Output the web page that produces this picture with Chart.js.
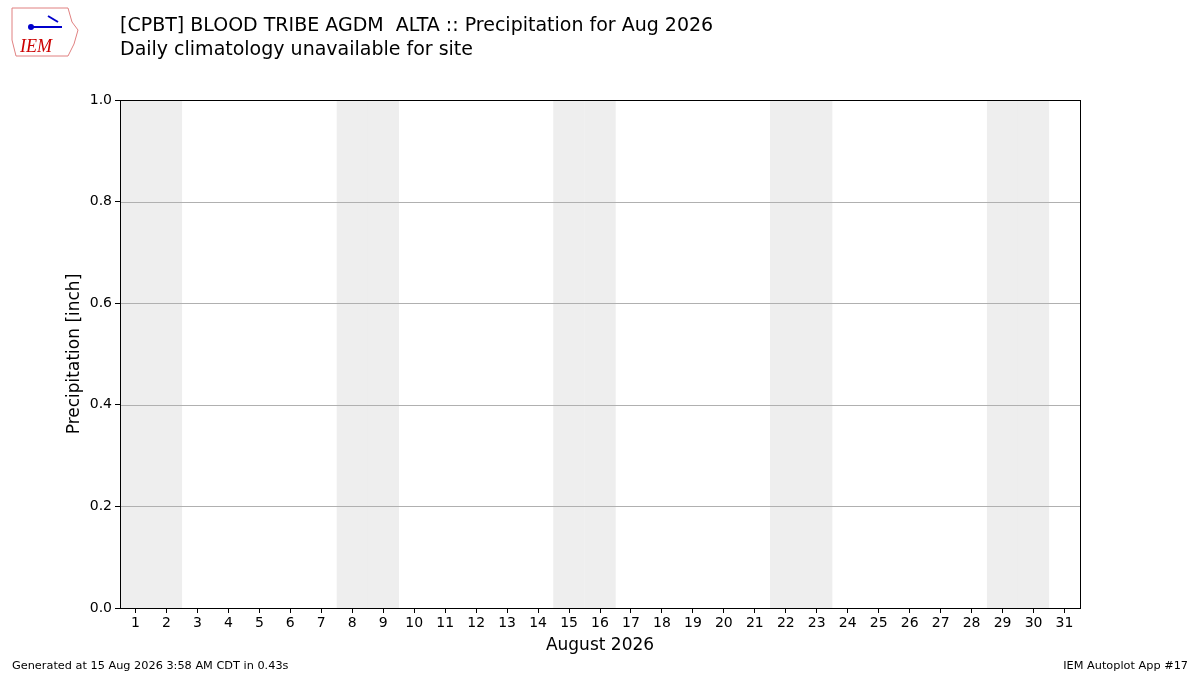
<!DOCTYPE html>
<html><head><meta charset="utf-8">
<script src="https://cdn.jsdelivr.net/npm/chart.js@4/dist/chart.umd.min.js"></script>
<style>html,body{margin:0;padding:0;background:#fff}#w{width:1200px;height:675px;position:relative}</style>
</head><body><div id="w"><canvas id="c" width="1200" height="675"></canvas></div>
<script>
const days = Array.from({length:31},(_,i)=>String(i+1));
const weekendShade = [1,1,0,0,0,0,0,1,1,0,0,0,0,0,1,1,0,0,0,0,0,1,1,0,0,0,0,0,1,1,0];
const precip = [0,0,0,0,0,0,0,0,0,0,0,0,0,0,0,0,0,0,0,0,0,0,0,0,0,0,0,0,0,0,0];
const yTicks = [0,0.2,0.4,0.6,0.8,1.0];
const titleLines = ["[CPBT] BLOOD TRIBE AGDM  ALTA :: Precipitation for Aug 2026","Daily climatology unavailable for site"];
const F = "DejaVu Sans";
const gridTop = {
  id:'gridTop',
  afterDatasetsDraw(ch){
    const c=ch.ctx,a=ch.chartArea,y=ch.scales.y;
    c.save();c.strokeStyle='#b0b0b0';c.lineWidth=1;
    yTicks.forEach(v=>{const p=Math.round(y.getPixelForValue(v))+0.5;c.beginPath();c.moveTo(a.left,p);c.lineTo(a.right,p);c.stroke();});
    c.restore();
  }
};
const deco = {
  id:'deco',
  afterDraw(ch){
    const c=ch.ctx, a=ch.chartArea;
    c.save();
    c.strokeStyle='#000';c.lineWidth=1;
    c.strokeRect(a.left+0.5,a.top+0.5,a.right-a.left,a.bottom-a.top);
    c.fillStyle='#000';c.textBaseline='alphabetic';c.textAlign='left';
    c.font='19px "'+F+'"';
    c.fillText(titleLines[0],120,31);
    c.fillText(titleLines[1],120,55);
    c.font='11.3px "'+F+'"';
    c.fillText('Generated at 15 Aug 2026 3:58 AM CDT in 0.43s',12,669);
    c.textAlign='right';
    c.fillText('IEM Autoplot App #17',1188,669);
    c.textAlign='center';c.font='17px "'+F+'"';
    c.fillText('August 2026',600,650);
    c.translate(79,354);c.rotate(-Math.PI/2);
    c.fillText('Precipitation [inch]',0,0);
    c.restore();
    c.save();
    c.strokeStyle='#e08080';c.lineWidth=1;
    c.beginPath();c.moveTo(12,8);c.lineTo(68,8);c.lineTo(72,22);c.lineTo(78,30);c.lineTo(74,44);c.lineTo(68,56);c.lineTo(16,56);c.lineTo(12,40);c.closePath();c.stroke();
    c.fillStyle='#c00';c.font='italic 18px "Liberation Serif"';c.textAlign='left';
    c.fillText('IEM',20,52);
    c.strokeStyle='#00c';c.lineWidth=2;
    c.beginPath();c.moveTo(30,27);c.lineTo(62,27);c.stroke();
    c.beginPath();c.moveTo(48,16);c.lineTo(58,22);c.stroke();
    c.fillStyle='#00c';c.beginPath();c.arc(31,27,3,0,7);c.fill();
    c.restore();
  }
};
new Chart(document.getElementById('c'),{
  type:'bar',
  data:{labels:days,datasets:[
    {data:weekendShade,yAxisID:'y2',backgroundColor:'#eeeeee',borderColor:'#eeeeee',borderWidth:0.5,barPercentage:1,categoryPercentage:1,grouped:false,order:3},
    {data:precip,backgroundColor:'#1f77b4',grouped:false,order:1}
  ]},
  options:{responsive:false,animation:false,
    layout:{padding:{left:0,top:100,right:120,bottom:0}},
    plugins:{legend:{display:false},tooltip:{enabled:false}},
    scales:{
      x:{offset:true,grid:{offset:false,drawOnChartArea:false,tickColor:'#000',tickLength:5},border:{display:false},
         ticks:{color:'#000',font:{family:F,size:14},maxRotation:0,autoSkip:false,padding:2},
         afterFit(s){s.height=67;}},
      y:{min:0,max:1,afterBuildTicks(s){s.ticks=yTicks.map(v=>({value:v}));},
         grid:{drawOnChartArea:false,tickColor:'#000',tickLength:5},border:{display:false},
         ticks:{color:'#000',font:{family:F,size:14},padding:3,callback:v=>v.toFixed(1)},
         afterFit(s){s.width=120;}},
      y2:{display:false,min:0,max:1}
    }
  },
  plugins:[gridTop,deco]
});
</script></body></html>
